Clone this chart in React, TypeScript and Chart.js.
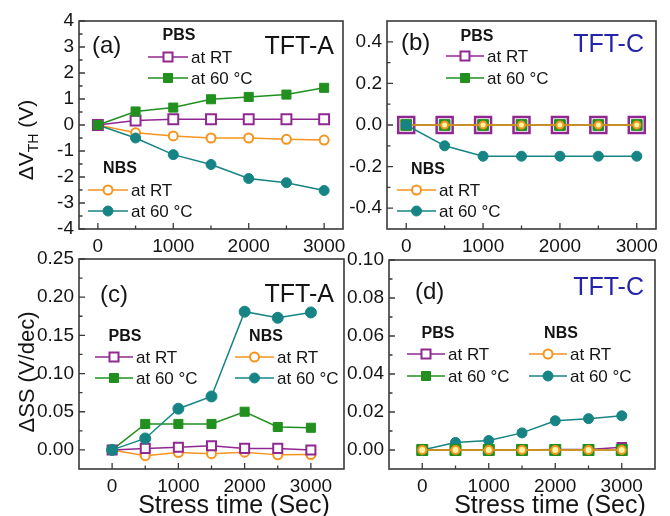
import React, { useEffect, useRef } from 'react';
import { Chart, registerables } from 'chart.js';

Chart.register(...registerables);

// ---------- data ----------
const stressTime = [0, 500, 1000, 1500, 2000, 2500, 3000];

// (a) TFT-A, ΔVTH (V)
const aPbsRT = [0, 0.17, 0.22, 0.22, 0.22, 0.22, 0.22];
const aPbs60 = [0, 0.52, 0.67, 0.99, 1.08, 1.17, 1.43];
const aNbsRT = [0, -0.3, -0.42, -0.5, -0.5, -0.55, -0.58];
const aNbs60 = [0, -0.5, -1.14, -1.52, -2.06, -2.22, -2.52];

// (b) TFT-C, ΔVTH (V)
const bPbsRT = [0, 0, 0, 0, 0, 0, 0];
const bPbs60 = [0, 0, 0, 0, 0, 0, 0];
const bNbsRT = [0, 0, 0, 0, 0, 0, 0];
const bNbs60 = [0, -0.1, -0.15, -0.15, -0.15, -0.15, -0.15];

// (c) TFT-A, ΔSS (V/dec)
const cPbsRT = [0, 0.002, 0.0035, 0.0055, 0.002, 0.002, 0];
const cPbs60 = [0, 0.034, 0.034, 0.034, 0.05, 0.03, 0.029];
const cNbsRT = [0, -0.0075, -0.0035, -0.005, -0.003, -0.0065, -0.006];
const cNbs60 = [0, 0.015, 0.054, 0.07, 0.181, 0.173, 0.18];

// (d) TFT-C, ΔSS (V/dec)
const dPbsRT = [0, 0, 0, 0, 0.0003, 0.0003, 0.0015];
const dPbs60 = [0, 0, 0, 0, 0, 0, 0];
const dNbsRT = [0, 0, 0, 0, 0, 0, 0];
const dNbs60 = [0, 0.004, 0.005, 0.009, 0.0154, 0.0165, 0.018];

// ---------- ticks ----------
const xTicks = [0, 1000, 2000, 3000];
const xTickLabels = ['0', '1000', '2000', '3000'];
const xMinorTicks = [500, 1500, 2500];

const yTicksA = [-4, -3, -2, -1, 0, 1, 2, 3, 4];
const yTickLabelsA = ['-4', '-3', '-2', '-1', '0', '1', '2', '3', '4'];
const yMinorA = [-3.5, -2.5, -1.5, -0.5, 0.5, 1.5, 2.5, 3.5];

const yTicksB = [-0.4, -0.2, 0, 0.2, 0.4];
const yTickLabelsB = ['-0.4', '-0.2', '0.0', '0.2', '0.4'];
const yMinorB = [-0.3, -0.1, 0.1, 0.3];

const yTicksC = [0, 0.05, 0.1, 0.15, 0.2, 0.25];
const yTickLabelsC = ['0.00', '0.05', '0.10', '0.15', '0.20', '0.25'];
const yMinorC = [0.025, 0.075, 0.125, 0.175, 0.225];

const yTicksD = [0, 0.02, 0.04, 0.06, 0.08, 0.1];
const yTickLabelsD = ['0.00', '0.02', '0.04', '0.06', '0.08', '0.10'];
const yMinorD = [0.01, 0.03, 0.05, 0.07, 0.09];

const seriesLabels = ['at RT', 'at 60 °C', 'at RT', 'at 60 °C'];

// ---------- styles ----------
const FONT = "'Liberation Sans', Arial, Helvetica, sans-serif";
const PURPLE = '#912891';
const GREEN = '#21901f';
const ORANGE = '#f5951f';
const TEAL = '#168484';
const FRAME = '#3a3a3a';
const TEXT = '#141414';
const BLUE = '#2424a8';

type Marker = { shape: 'square' | 'circle'; size: number; bw: number; fill: string; color: string };

const legendMarkers: Marker[] = [
  { shape: 'square', size: 9, bw: 2, fill: '#ffffff', color: PURPLE },
  { shape: 'square', size: 9, bw: 1, fill: GREEN, color: GREEN },
  { shape: 'circle', size: 9, bw: 2, fill: '#ffffff', color: ORANGE },
  { shape: 'circle', size: 10, bw: 1, fill: TEAL, color: TEAL },
];

function drawMarker(ctx: CanvasRenderingContext2D, m: Marker, x: number, y: number) {
  ctx.save();
  ctx.lineWidth = m.bw;
  ctx.strokeStyle = m.color;
  ctx.fillStyle = m.fill;
  ctx.beginPath();
  const h = m.size / 2;
  if (m.shape === 'square') ctx.rect(x - h, y - h, m.size, m.size);
  else ctx.arc(x, y, h, 0, Math.PI * 2);
  ctx.fill();
  ctx.stroke();
  ctx.restore();
}

type PanelSpec = {
  values: number[][];
  pointR: number[];
  pointBW: number[];
  pointFill: string[];
  order: number[];
  xMin: number; xMax: number;
  yMin: number; yMax: number;
  yTicks: number[]; yLabels: string[]; yMinor: number[];
  area: { l: number; t: number; r: number; b: number };
  tag: { text: string; x: number; y: number };
  device: { text: string; x: number; y: number; color: string };
  headers: { text: string; x: number; y: number }[];
  rows: { x1: number; x2: number; y: number; tx: number }[];
  yTitle?: { parts: { t: string; size: number; dy: number }[]; x: number; y: number };
  xTitle?: { text: string; x: number; y: number };
};

const colors = [PURPLE, GREEN, ORANGE, TEAL];
const shapes = ['rect', 'rect', 'circle', 'circle'];

const panels: PanelSpec[] = [
  {
    values: [aPbsRT, aPbs60, aNbsRT, aNbs60],
    pointR: [7, 6.4, 4.5, 5],
    pointBW: [2, 1, 2, 1],
    pointFill: ['#ffffff', GREEN, '#ffffff', TEAL],
    order: [2, 1, 4, 3],
    xMin: -250, xMax: 3250, yMin: -4, yMax: 4,
    yTicks: yTicksA, yLabels: yTickLabelsA, yMinor: yMinorA,
    area: { l: 79, t: 21, r: 343, b: 229 },
    tag: { text: '(a)', x: 92, y: 46 },
    device: { text: 'TFT-A', x: 334, y: 47, color: TEXT },
    headers: [{ text: 'PBS', x: 179, y: 36 }, { text: 'NBS', x: 120, y: 169 }],
    rows: [
      { x1: 148, x2: 188, y: 57, tx: 191 },
      { x1: 148, x2: 188, y: 78, tx: 191 },
      { x1: 88, x2: 128, y: 190, tx: 131 },
      { x1: 88, x2: 128, y: 211, tx: 131 },
    ],
    yTitle: { parts: [{ t: 'ΔV', size: 21, dy: 0 }, { t: 'TH', size: 14, dy: 5 }, { t: ' (V)', size: 21, dy: 0 }], x: 33, y: 140 },
  },
  {
    values: [bPbsRT, bPbs60, bNbsRT, bNbs60],
    pointR: [11.3, 7.6, 3.5, 5],
    pointBW: [2.5, 1, 2, 1],
    pointFill: ['#ffffff', GREEN, '#fff6a8', TEAL],
    order: [4, 3, 2, 1],
    xMin: -250, xMax: 3250, yMin: -0.5, yMax: 0.5,
    yTicks: yTicksB, yLabels: yTickLabelsB, yMinor: yMinorB,
    area: { l: 387, t: 21, r: 656, b: 229 },
    tag: { text: '(b)', x: 401, y: 43 },
    device: { text: 'TFT-C', x: 644, y: 45, color: BLUE },
    headers: [{ text: 'PBS', x: 477, y: 37 }, { text: 'NBS', x: 428, y: 170 }],
    rows: [
      { x1: 446, x2: 484, y: 56, tx: 487 },
      { x1: 446, x2: 484, y: 78, tx: 487 },
      { x1: 397, x2: 436, y: 190, tx: 439 },
      { x1: 397, x2: 436, y: 211, tx: 439 },
    ],
  },
  {
    values: [cPbsRT, cPbs60, cNbsRT, cNbs60],
    pointR: [6.4, 6.4, 4.5, 5.5],
    pointBW: [2, 1, 2, 1],
    pointFill: ['#ffffff', GREEN, '#ffffff', TEAL],
    order: [2, 4, 3, 1],
    xMin: -500, xMax: 3500, yMin: -0.025, yMax: 0.25,
    yTicks: yTicksC, yLabels: yTickLabelsC, yMinor: yMinorC,
    area: { l: 79, t: 259, r: 344, b: 469 },
    tag: { text: '(c)', x: 100, y: 295 },
    device: { text: 'TFT-A', x: 334, y: 295, color: TEXT },
    headers: [{ text: 'PBS', x: 125, y: 337 }, { text: 'NBS', x: 266, y: 337 }],
    rows: [
      { x1: 95, x2: 133, y: 357, tx: 136 },
      { x1: 95, x2: 133, y: 378, tx: 136 },
      { x1: 235, x2: 274, y: 357, tx: 277 },
      { x1: 235, x2: 274, y: 378, tx: 277 },
    ],
    yTitle: { parts: [{ t: 'ΔSS (V/dec)', size: 22, dy: 0 }], x: 34, y: 372 },
    xTitle: { text: 'Stress time (Sec)', x: 234, y: 513 },
  },
  {
    values: [dPbsRT, dPbs60, dNbsRT, dNbs60],
    pointR: [6, 7.8, 4, 5],
    pointBW: [2, 1, 2, 1],
    pointFill: ['#ffffff', GREEN, '#fff6a8', TEAL],
    order: [3, 2, 1, 4],
    xMin: -500, xMax: 3500, yMin: -0.01, yMax: 0.1,
    yTicks: yTicksD, yLabels: yTickLabelsD, yMinor: yMinorD,
    area: { l: 389, t: 260, r: 655, b: 469 },
    tag: { text: '(d)', x: 415, y: 292 },
    device: { text: 'TFT-C', x: 644, y: 288, color: BLUE },
    headers: [{ text: 'PBS', x: 438, y: 334 }, { text: 'NBS', x: 561, y: 334 }],
    rows: [
      { x1: 407, x2: 445, y: 354, tx: 448 },
      { x1: 407, x2: 445, y: 376, tx: 448 },
      { x1: 529, x2: 567, y: 354, tx: 570 },
      { x1: 529, x2: 567, y: 376, tx: 570 },
    ],
    xTitle: { text: 'Stress time (Sec)', x: 550, y: 513 },
  },
];

const W = 670;
const H = 516;
const Y_W = 50;
const X_H = 40;

function makeDecorPlugin(spec: PanelSpec) {
  return {
    id: 'decor',
    afterDraw(chart: any) {
      const ctx: CanvasRenderingContext2D = chart.ctx;
      const ca = chart.chartArea;
      const xs = chart.scales.x;
      const ys = chart.scales.y;
      ctx.save();
      // inward ticks
      ctx.strokeStyle = FRAME;
      ctx.lineWidth = 1.3;
      ctx.beginPath();
      xTicks.forEach((v) => { const px = xs.getPixelForValue(v); ctx.moveTo(px, ca.bottom); ctx.lineTo(px, ca.bottom - 6); });
      xMinorTicks.forEach((v) => { const px = xs.getPixelForValue(v); ctx.moveTo(px, ca.bottom); ctx.lineTo(px, ca.bottom - 3.5); });
      spec.yTicks.forEach((v) => { const py = ys.getPixelForValue(v); ctx.moveTo(ca.left, py); ctx.lineTo(ca.left + 6, py); });
      spec.yMinor.forEach((v) => { const py = ys.getPixelForValue(v); ctx.moveTo(ca.left, py); ctx.lineTo(ca.left + 3.5, py); });
      ctx.stroke();
      // frame
      ctx.lineWidth = 1.6;
      ctx.strokeRect(ca.left, ca.top, ca.right - ca.left, ca.bottom - ca.top);

      // tag and device labels
      ctx.textBaseline = 'middle';
      ctx.fillStyle = TEXT;
      ctx.font = `24px ${FONT}`;
      ctx.textAlign = 'left';
      ctx.fillText(spec.tag.text, spec.tag.x, spec.tag.y);
      ctx.fillStyle = spec.device.color;
      ctx.font = `25px ${FONT}`;
      ctx.textAlign = 'right';
      ctx.fillText(spec.device.text, spec.device.x, spec.device.y);

      // legend
      ctx.fillStyle = TEXT;
      ctx.font = `bold 16px ${FONT}`;
      ctx.textAlign = 'center';
      spec.headers.forEach((h) => ctx.fillText(h.text, h.x, h.y));
      ctx.font = `17px ${FONT}`;
      ctx.textAlign = 'left';
      spec.rows.forEach((r, i) => {
        ctx.strokeStyle = colors[i];
        ctx.lineWidth = 1.5;
        ctx.beginPath();
        ctx.moveTo(r.x1, r.y);
        ctx.lineTo(r.x2, r.y);
        ctx.stroke();
        drawMarker(ctx, legendMarkers[i], (r.x1 + r.x2) / 2, r.y);
        ctx.fillStyle = TEXT;
        ctx.fillText(seriesLabels[i], r.tx, r.y + 1);
      });

      // axis titles
      if (spec.yTitle) {
        const yt = spec.yTitle;
        ctx.save();
        ctx.translate(yt.x, yt.y);
        ctx.rotate(-Math.PI / 2);
        ctx.textBaseline = 'alphabetic';
        ctx.textAlign = 'left';
        let total = 0;
        yt.parts.forEach((p) => { ctx.font = `${p.size}px ${FONT}`; total += ctx.measureText(p.t).width; });
        let cx = -total / 2;
        yt.parts.forEach((p) => {
          ctx.font = `${p.size}px ${FONT}`;
          ctx.fillText(p.t, cx, p.dy);
          cx += ctx.measureText(p.t).width;
        });
        ctx.restore();
      }
      if (spec.xTitle) {
        ctx.font = `25px ${FONT}`;
        ctx.textAlign = 'center';
        ctx.textBaseline = 'alphabetic';
        ctx.fillStyle = TEXT;
        ctx.fillText(spec.xTitle.text, spec.xTitle.x, spec.xTitle.y);
      }
      ctx.restore();
    },
  };
}

function buildChart(canvas: HTMLCanvasElement, spec: PanelSpec) {
  const a = spec.area;
  return new Chart(canvas, {
    type: 'line',
    data: {
      datasets: spec.values.map((vals, i) => ({
        label: seriesLabels[i],
        data: stressTime.map((t, j) => ({ x: t, y: vals[j] })),
        borderColor: colors[i],
        backgroundColor: spec.pointFill[i],
        borderWidth: 1.5,
        pointStyle: shapes[i] as any,
        pointRadius: spec.pointR[i],
        pointBorderWidth: spec.pointBW[i],
        pointBorderColor: colors[i],
        pointBackgroundColor: spec.pointFill[i],
        order: spec.order[i],
        tension: 0,
        fill: false,
      })),
    },
    options: {
      responsive: false,
      animation: false,
      devicePixelRatio: 1,
      events: [],
      layout: {
        padding: { left: a.l - Y_W, top: a.t, right: W - a.r, bottom: H - a.b - X_H },
      },
      plugins: { legend: { display: false }, tooltip: { enabled: false }, title: { display: false } },
      scales: {
        x: {
          type: 'linear',
          min: spec.xMin,
          max: spec.xMax,
          afterBuildTicks: (sc: any) => { sc.ticks = xTicks.map((v) => ({ value: v })); },
          afterFit: (sc: any) => { sc.height = X_H; },
          grid: { display: false, drawTicks: false },
          border: { display: false },
          ticks: {
            autoSkip: false,
            maxRotation: 0,
            padding: 6,
            color: TEXT,
            font: { family: FONT, size: 19 },
            callback: (_v: any, idx: number) => xTickLabels[idx],
          },
        },
        y: {
          type: 'linear',
          min: spec.yMin,
          max: spec.yMax,
          afterBuildTicks: (sc: any) => { sc.ticks = spec.yTicks.map((v) => ({ value: v })); },
          afterFit: (sc: any) => { sc.width = Y_W; },
          grid: { display: false, drawTicks: false },
          border: { display: false },
          ticks: {
            autoSkip: false,
            padding: 5,
            color: TEXT,
            font: { family: FONT, size: 19 },
            callback: (_v: any, idx: number) => spec.yLabels[idx],
          },
        },
      },
    } as any,
    plugins: [makeDecorPlugin(spec)],
  });
}

function Panel({ spec }: { spec: PanelSpec }) {
  const ref = useRef<HTMLCanvasElement | null>(null);
  useEffect(() => {
    if (!ref.current) return;
    const chart = buildChart(ref.current, spec);
    return () => chart.destroy();
  }, [spec]);
  return (
    <canvas
      ref={ref}
      width={W}
      height={H}
      style={{ position: 'absolute', left: 0, top: 0, width: W, height: H }}
    />
  );
}

export default function App() {
  return (
    <div
      style={{
        position: 'fixed',
        left: 0,
        top: 0,
        width: W,
        height: H,
        background: '#ffffff',
        overflow: 'hidden',
      }}
    >
      {panels.map((p, i) => (
        <Panel key={i} spec={p} />
      ))}
    </div>
  );
}
